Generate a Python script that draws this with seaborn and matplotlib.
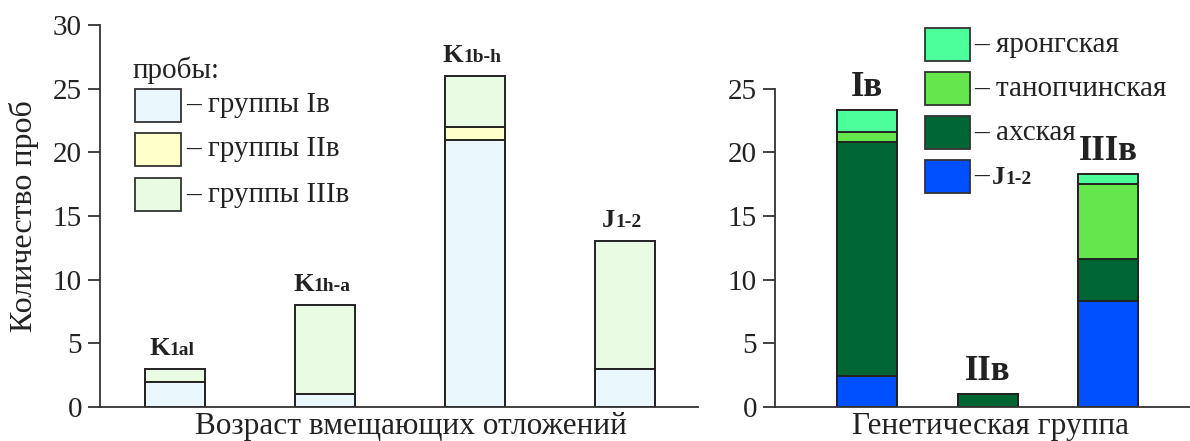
import numpy as np
import pandas as pd
import matplotlib
matplotlib.use("Agg")
import matplotlib.pyplot as plt
import matplotlib.transforms as mtransforms
from matplotlib.patches import Rectangle
import seaborn as sns

# ---------------- data ----------------
age_cats = ["K1al", "K1h-a", "K1b-h", "J1-2"]
age_main = ["K", "K", "K", "J"]
age_sub = ["1al", "1h-a", "1b-h", "1-2"]
grp_I = [2, 1, 21, 3]
grp_II = [0, 0, 1, 0]
grp_III = [1, 7, 4, 10]
left_series = ["группы Iв", "группы IIв", "группы IIIв"]
left_colors = ["#eaf8fd", "#ffffc8", "#eafbe4"]

gen_cats = ["Iв", "IIв", "IIIв"]
s_J12 = [2.45, 0, 8.3]
s_akh = [18.35, 1.0, 3.3]
s_tan = [0.8, 0, 5.9]
s_yar = [1.7, 0, 0.8]
right_series = ["J1-2", "ахская", "танопчинская", "яронгская"]
right_colors = ["#0050ff", "#006633", "#66e64d", "#4dff9a"]

left_ticks = [0, 5, 10, 15, 20, 25, 30]
right_ticks = [0, 5, 10, 15, 20, 25]

# ---------------- style ----------------
sns.set_theme(style="white")
plt.rcParams["font.family"] = ["Liberation Serif", "DejaVu Serif"]
TXT = "#222222"
EDGE = "#222222"

W, H = 1190, 441
fig = plt.figure(figsize=(W / 100, H / 100), dpi=100)


def fx(x):
    return x / W


def fy(y):
    return 1 - y / H


axL = fig.add_axes([fx(100), fy(407), fx(698) - fx(100), fy(25) - fy(407)])
axR = fig.add_axes([fx(775), fy(407), fx(1190) - fx(775), fy(25) - fy(407)])


def stacked(ax, cats, layers, colors, width):
    cum = np.cumsum(np.array(layers, dtype=float), axis=0)
    for i in range(len(layers) - 1, -1, -1):
        df = pd.DataFrame({"cat": cats, "val": cum[i]})
        sns.barplot(data=df, x="cat", y="val", order=cats, color=colors[i],
                    saturation=1, edgecolor=EDGE, linewidth=1.4,
                    width=width, errorbar=None, ax=ax)
    return cum[-1]


totL = stacked(axL, age_cats, [grp_I, grp_II, grp_III], left_colors, 0.4)
totR = stacked(axR, gen_cats, [s_J12, s_akh, s_tan, s_yar], right_colors, 0.5)

for ax in (axL, axR):
    ax.set_ylim(0, 30)
    for s in ("top", "right"):
        ax.spines[s].set_visible(False)
    for s in ("left", "bottom"):
        ax.spines[s].set_color("#333333")
        ax.spines[s].set_linewidth(1.3)
    ax.set_xticks([])
    ax.tick_params(axis="y", direction="out", length=9, width=1.3,
                   color="#333333", labelsize=21, labelcolor=TXT, pad=4,
                   left=True)
    ax.set_facecolor("none")

axL.set_xlim(-0.5, 3.49)
axL.set_yticks(left_ticks)
axL.spines["left"].set_bounds(0, 30)
axL.set_ylabel("Количество проб", fontsize=23, color=TXT, labelpad=10)
axL.set_xlabel("Возраст вмещающих отложений", fontsize=22.5, color=TXT,
               labelpad=3)
axL.xaxis.set_label_coords(0.52, -0.012, transform=axL.transAxes)
axL.xaxis.label.set_va("top")

axR.set_xlim(-0.765, 2.68)
axR.set_yticks(right_ticks)
axR.spines["left"].set_bounds(0, 25)
axR.set_ylabel("")
axR.set_xlabel("Генетическая группа", fontsize=22.5, color=TXT, labelpad=3)
axR.xaxis.set_label_coords(0.52, -0.012, transform=axR.transAxes)
axR.xaxis.label.set_va("top")

renderer = fig.canvas.get_renderer()


def compound(ax, x, y, main, sub, s_main, s_sub, coords="data"):
    """Big bold letter followed by smaller bold index on the same baseline,
    the pair centred on x (coords='data') or left-aligned at x (fig px)."""
    t1 = fig.text(0, 0, main, fontsize=s_main, fontweight="bold", color=TXT)
    t2 = fig.text(0, 0, sub, fontsize=s_sub, fontweight="bold", color=TXT)
    w1 = t1.get_window_extent(renderer).width
    w2 = t2.get_window_extent(renderer).width
    t1.remove()
    t2.remove()
    if coords == "data":
        base = ax.transData
        start = -(w1 + w2) / 2
        pos = (x, y)
    else:
        base = fig.transFigure
        start = 0
        pos = (fx(x), fy(y))
    tr1 = mtransforms.offset_copy(base, fig=fig, x=start, y=0, units="dots")
    tr2 = mtransforms.offset_copy(base, fig=fig, x=start + w1, y=0,
                                  units="dots")
    ax.text(pos[0], pos[1], main, transform=tr1, ha="left", va="baseline",
            fontsize=s_main, fontweight="bold", color=TXT, clip_on=False)
    ax.text(pos[0], pos[1], sub, transform=tr2, ha="left", va="baseline",
            fontsize=s_sub, fontweight="bold", color=TXT, clip_on=False)


# ---------- labels above bars ----------
for i, (m, sub) in enumerate(zip(age_main, age_sub)):
    compound(axL, i - 0.02, totL[i] + 1.1, m, sub, 19, 14)

for i, lab in enumerate(gen_cats):
    axR.text(i, totR[i] + 0.5, lab, ha="center", va="bottom",
             fontsize=25, fontweight="bold", color=TXT)

# ---------- left legend ----------
fig.text(fx(133), fy(78), "пробы:", fontsize=21, color=TXT,
         ha="left", va="baseline")
box_tops_L = [89, 133, 178]
for top, lab, col in zip(box_tops_L, left_series, left_colors):
    fig.patches.append(Rectangle((fx(135), fy(top + 33)), fx(46), 33 / H,
                                 transform=fig.transFigure, facecolor=col,
                                 edgecolor="#333333", linewidth=1.3))
    fig.text(fx(186), fy(top + 16.5), "– " + lab, fontsize=21, color=TXT,
             ha="left", va="center")

# ---------- right legend ----------
box_tops_R = [28, 72, 116, 160]
for top, lab, col in zip(box_tops_R, right_series[::-1], right_colors[::-1]):
    fig.patches.append(Rectangle((fx(925), fy(top + 33)), fx(45), 33 / H,
                                 transform=fig.transFigure, facecolor=col,
                                 edgecolor="#333333", linewidth=1.3))
    if lab == "J1-2":
        fig.text(fx(974), fy(top + 16.5), "–", fontsize=21, color=TXT,
                 ha="left", va="center")
        compound(axR, 992, top + 24, "J", "1-2", 19, 14, coords="fig")
    else:
        fig.text(fx(974), fy(top + 16.5), "– " + lab, fontsize=21, color=TXT,
                 ha="left", va="center")

fig.savefig("out.png", dpi=100, facecolor="white")
